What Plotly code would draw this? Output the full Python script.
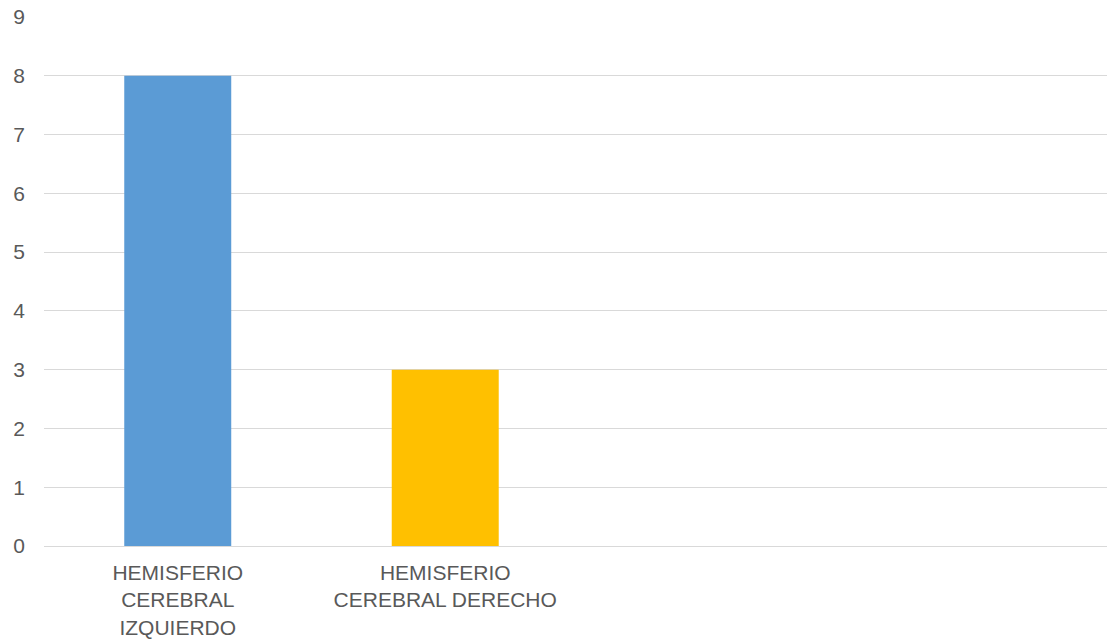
import plotly.graph_objects as go

# Hemisphere dominance counts
categories = ["HEMISFERIO<br>CEREBRAL<br>IZQUIERDO", "HEMISFERIO<br>CEREBRAL DERECHO"]
counts = [8, 3]
bar_colors = ["#5B9BD5", "#FFC000"]
y_ticks = list(range(0, 10))

positions = list(range(len(categories)))

fig = go.Figure(
    go.Bar(
        x=positions,
        y=counts,
        width=0.4,
        marker=dict(color=bar_colors, line=dict(width=0)),
        hoverinfo="skip",
    )
)

fig.update_layout(
    width=1107,
    height=642,
    margin=dict(l=44, r=0, t=17, b=96),
    paper_bgcolor="white",
    plot_bgcolor="white",
    showlegend=False,
    font=dict(family="Liberation Sans, Arial, sans-serif", color="#595959", size=21),
)

fig.update_xaxes(
    range=[-0.5, 3.474],
    tickvals=positions,
    ticktext=categories,
    showgrid=False,
    zeroline=False,
    showline=False,
    ticks="",
    ticklabelstandoff=12,
    tickfont=dict(size=21, color="#595959"),
)

fig.update_yaxes(
    range=[0, 9],
    tickvals=y_ticks,
    showgrid=True,
    gridcolor="#D9D9D9",
    gridwidth=1,
    zeroline=True,
    zerolinecolor="#D9D9D9",
    zerolinewidth=1,
    showline=False,
    ticks="",
    ticklabelstandoff=18,
    tickfont=dict(size=21, color="#595959"),
)

fig.write_html("out.html")
